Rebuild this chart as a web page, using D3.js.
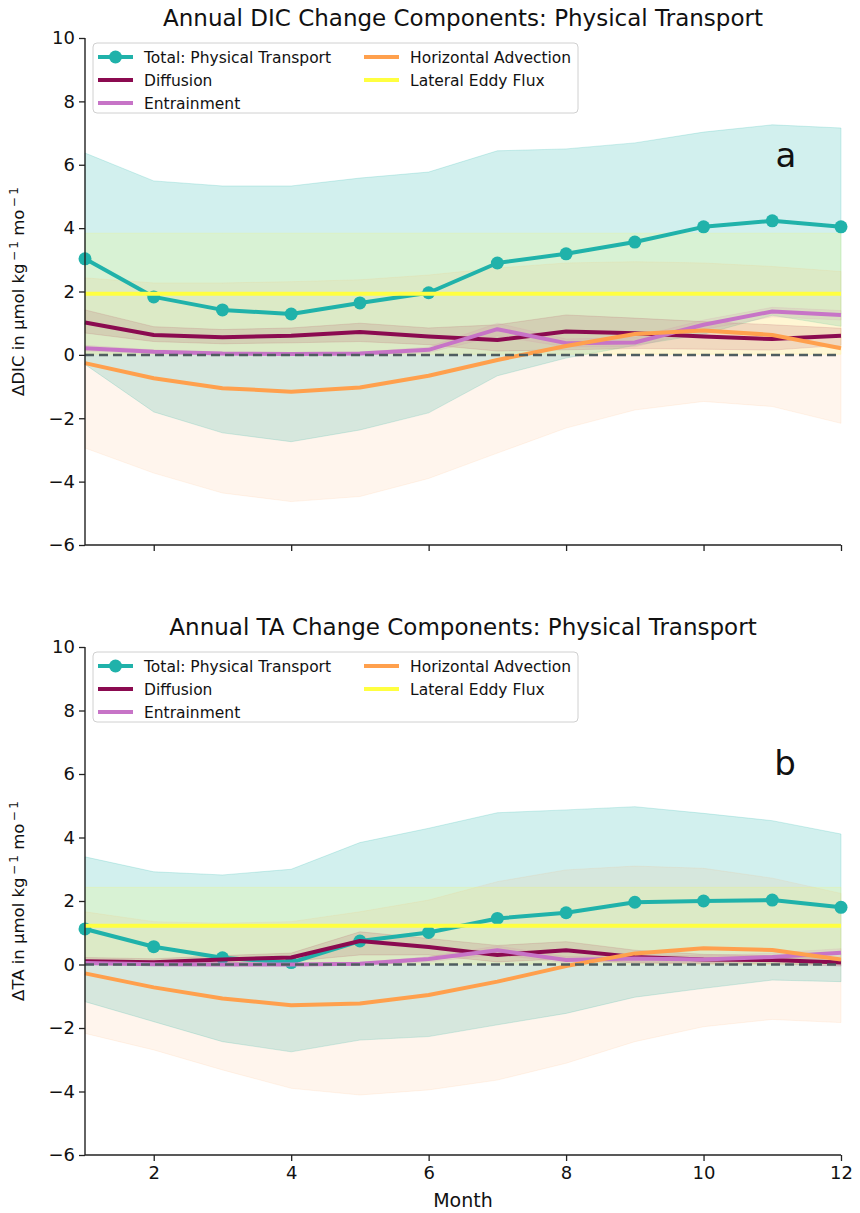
<!DOCTYPE html>
<html><head><meta charset="utf-8">
<script src="https://cdn.jsdelivr.net/npm/d3@7"></script>
<style>body{margin:0;background:#fff}svg{display:block;font-family:"DejaVu Sans",sans-serif}</style>
</head><body><svg id="c" width="860" height="1213"></svg>
<script>
const months = [1,2,3,4,5,6,7,8,9,10,11,12];
const xTicks = [2,4,6,8,10,12];
const yTicks = [-6,-4,-2,0,2,4,6,8,10];
const legendLabels = ["Total: Physical Transport","Diffusion","Entrainment","Horizontal Advection","Lateral Eddy Flux"];

// ---- DIC panel ----
const dicTotal   = [3.03,1.83,1.42,1.29,1.64,1.96,2.90,3.19,3.56,4.04,4.23,4.04];
const dicTotalHi = [6.37,5.49,5.33,5.33,5.58,5.77,6.44,6.50,6.69,7.03,7.26,7.16];
const dicTotalLo = [-0.30,-1.80,-2.46,-2.74,-2.37,-1.83,-0.66,-0.10,0.30,0.65,1.25,0.90];
const dicDiff    = [1.02,0.63,0.56,0.60,0.72,0.58,0.47,0.74,0.68,0.58,0.50,0.60];
const dicDiffHi  = [1.42,0.89,0.80,0.85,1.00,0.85,0.95,1.26,1.16,1.05,0.95,0.84];
const dicDiffLo  = [0.69,0.42,0.35,0.38,0.42,0.32,0.12,0.16,0.20,0.18,0.15,0.30];
const dicEnt     = [0.21,0.10,0.04,0.03,0.04,0.16,0.81,0.37,0.39,0.95,1.37,1.26];
const dicEntHi   = [0.30,0.16,0.08,0.07,0.08,0.25,1.00,0.50,0.55,1.10,1.50,1.40];
const dicEntLo   = [0.12,0.04,0.00,0.00,0.00,0.07,0.60,0.25,0.25,0.80,1.20,1.10];
const dicAdv     = [-0.26,-0.74,-1.05,-1.16,-1.03,-0.66,-0.16,0.28,0.66,0.77,0.63,0.21];
const dicAdvHi   = [2.43,2.27,2.27,2.31,2.37,2.52,2.74,2.90,2.94,2.90,2.79,2.63];
const dicAdvLo   = [-2.94,-3.73,-4.36,-4.63,-4.47,-3.90,-3.10,-2.31,-1.74,-1.47,-1.63,-2.16];
const dicEddy    = [1.93,1.93,1.93,1.93,1.93,1.93,1.93,1.93,1.93,1.93,1.93,1.93];
const dicEddyHi  = [3.84,3.84,3.84,3.84,3.84,3.84,3.84,3.84,3.84,3.84,3.84,3.84];
const dicEddyLo  = [0.02,0.02,0.02,0.02,0.02,0.02,0.02,0.02,0.02,0.02,0.02,0.02];

// ---- TA panel ----
const taTotal   = [1.12,0.56,0.21,0.06,0.74,1.01,1.45,1.63,1.96,2.00,2.03,1.80];
const taTotalHi = [3.39,2.92,2.82,3.00,3.84,4.29,4.78,4.87,4.97,4.76,4.53,4.11];
const taTotalLo = [-1.17,-1.80,-2.43,-2.75,-2.38,-2.27,-1.90,-1.54,-1.03,-0.75,-0.49,-0.54];
const taDiff    = [0.10,0.07,0.16,0.22,0.74,0.55,0.30,0.45,0.24,0.16,0.14,0.06];
const taDiffHi  = [0.22,0.18,0.28,0.36,1.03,0.82,0.60,0.72,0.45,0.32,0.28,0.18];
const taDiffLo  = [0.00,-0.03,0.05,0.10,0.30,0.30,0.08,0.18,0.05,0.02,0.02,-0.05];
const taEnt     = [0.05,0.01,0.00,0.00,0.02,0.17,0.45,0.14,0.19,0.16,0.24,0.37];
const taEntHi   = [0.10,0.05,0.03,0.03,0.06,0.25,0.58,0.25,0.30,0.28,0.36,0.50];
const taEntLo   = [0.00,-0.02,-0.03,-0.03,-0.02,0.08,0.32,0.05,0.08,0.05,0.12,0.24];
const taAdv     = [-0.28,-0.72,-1.07,-1.28,-1.23,-0.96,-0.54,-0.05,0.35,0.51,0.46,0.16];
const taAdvHi   = [1.66,1.35,1.30,1.35,1.66,2.03,2.61,2.98,3.10,3.03,2.72,2.24];
const taAdvLo   = [-2.17,-2.69,-3.32,-3.90,-4.11,-3.95,-3.64,-3.11,-2.43,-1.96,-1.73,-1.83];
const taEddy    = [1.22,1.22,1.22,1.22,1.22,1.22,1.22,1.22,1.22,1.22,1.22,1.22];
const taEddyHi  = [2.43,2.43,2.43,2.43,2.43,2.43,2.43,2.43,2.43,2.43,2.43,2.43];
const taEddyLo  = [0.01,0.01,0.01,0.01,0.01,0.01,0.01,0.01,0.01,0.01,0.01,0.01];

const COL = {total:"#20b2aa", diff:"#8b0a50", ent:"#c774c7", adv:"#ffa04d", eddy:"#ffff40", zero:"#4f5d60"};

const svg = d3.select("#c");
const x = d3.scaleLinear().domain([1,12]).range([85,841]);

function panel(cfg){
  const y = d3.scaleLinear().domain([-6,10]).range([cfg.bottom, cfg.top]);
  const g = svg.append("g");
  const series = [
    {key:"total", v:cfg.total, hi:cfg.totalHi, lo:cfg.totalLo, alpha:0.2},
    {key:"diff", v:cfg.diff, hi:cfg.diffHi, lo:cfg.diffLo, alpha:0.15},
    {key:"ent", v:cfg.ent, hi:cfg.entHi, lo:cfg.entLo, alpha:0.15},
    {key:"adv", v:cfg.adv, hi:cfg.advHi, lo:cfg.advLo, alpha:0.1},
    {key:"eddy", v:cfg.eddy, hi:cfg.eddyHi, lo:cfg.eddyLo, alpha:0.15}
  ];
  const area = d3.area().x((d,i)=>x(months[i])).y0(d=>y(d[0])).y1(d=>y(d[1]));
  const line = d3.line().x((d,i)=>x(months[i])).y(d=>y(d));
  series.forEach(s=>{
    const pts = s.lo.map((l,i)=>[l,s.hi[i]]);
    g.append("path").attr("d", area(pts)).attr("fill", COL[s.key]).attr("fill-opacity", s.alpha)
      .attr("stroke", COL[s.key]).attr("stroke-opacity", s.alpha).attr("stroke-width",1);
  });
  series.forEach(s=>{
    g.append("path").attr("d", line(s.v)).attr("fill","none").attr("stroke", COL[s.key])
      .attr("stroke-width", 4).attr("stroke-linejoin","round");
    if(s.key==="total"){
      g.selectAll(null).data(s.v).enter().append("circle")
        .attr("cx",(d,i)=>x(months[i])).attr("cy",d=>y(d)).attr("r",6.5).attr("fill",COL.total);
    }
  });
  g.append("line").attr("x1",x(1)).attr("x2",x(12)).attr("y1",y(0)).attr("y2",y(0))
    .attr("stroke",COL.zero).attr("stroke-width",2.5).attr("stroke-dasharray","9,5");

  const ax = g.append("g").attr("transform",`translate(0,${cfg.bottom})`)
    .call(d3.axisBottom(x).tickValues(xTicks).tickSize(6).tickPadding(5)
      .tickFormat(cfg.showX ? d3.format("d") : ""));
  const ay = g.append("g").attr("transform",`translate(${x(1)},0)`)
    .call(d3.axisLeft(y).tickValues(yTicks).tickSize(6).tickPadding(4)
      .tickFormat(d=> d<0 ? "\u2212"+Math.abs(d) : d));
  [ax,ay].forEach(a=>{
    a.selectAll("path").attr("stroke","#222").attr("stroke-width",1.4);
    a.selectAll("line").attr("stroke","#222").attr("stroke-width",1.3);
    a.selectAll("text").attr("font-size",18).attr("fill","#111").attr("font-family","DejaVu Sans");
  });
  ax.select(".domain").attr("d",`M${x(1)},0H${x(12)}`);
  ay.select(".domain").attr("d",`M0,${cfg.bottom}V${cfg.top}`);

  svg.append("text").attr("x",463).attr("y",cfg.top-12).attr("text-anchor","middle")
    .attr("font-size",23).attr("fill","#111").text(cfg.title);
  svg.append("text").attr("x",cfg.letterX).attr("y",cfg.letterY).attr("text-anchor","middle")
    .attr("font-size",34).attr("fill","#111").text(cfg.letter);
  const yl = svg.append("text").attr("transform",`translate(24,${(cfg.top+cfg.bottom)/2}) rotate(-90)`)
    .attr("text-anchor","middle").attr("font-size",16.5).attr("fill","#111");
  yl.append("tspan").text(cfg.ylab+" in \u03bcmol kg");
  yl.append("tspan").attr("font-size",12).attr("dy",-6).text("\u2009\u2212\u20091");
  yl.append("tspan").attr("dy",6).text(" mo");
  yl.append("tspan").attr("font-size",12).attr("dy",-6).text("\u2009\u2212\u20091");

  const L = svg.append("g").attr("transform",`translate(93,${cfg.top+5})`);
  L.append("rect").attr("width",485).attr("height",70).attr("rx",4)
    .attr("fill","#fff").attr("fill-opacity",0.85).attr("stroke","#d0d0d0").attr("stroke-width",1);
  const items = [
    {k:"total", c:0, r:0}, {k:"diff", c:0, r:1}, {k:"ent", c:0, r:2},
    {k:"adv", c:1, r:0}, {k:"eddy", c:1, r:1}
  ];
  items.forEach((it,i)=>{
    const ox = it.c===0 ? 5 : 271, oy = 14 + it.r*23;
    L.append("line").attr("x1",ox).attr("x2",ox+35).attr("y1",oy).attr("y2",oy)
      .attr("stroke",COL[it.k]).attr("stroke-width",4);
    if(it.k==="total") L.append("circle").attr("cx",ox+17.5).attr("cy",oy).attr("r",6.5).attr("fill",COL.total);
    L.append("text").attr("x",ox+46).attr("y",oy+5.5).attr("font-size",15.5).attr("fill","#111").text(legendLabels[i]);
  });
}

panel({top:38, bottom:545, showX:false, title:"Annual DIC Change Components: Physical Transport",
  letter:"a", letterX:786, letterY:167, ylab:"\u0394DIC",
  total:dicTotal,totalHi:dicTotalHi,totalLo:dicTotalLo,diff:dicDiff,diffHi:dicDiffHi,diffLo:dicDiffLo,
  ent:dicEnt,entHi:dicEntHi,entLo:dicEntLo,adv:dicAdv,advHi:dicAdvHi,advLo:dicAdvLo,
  eddy:dicEddy,eddyHi:dicEddyHi,eddyLo:dicEddyLo});
panel({top:647, bottom:1155, showX:true, title:"Annual TA Change Components: Physical Transport",
  letter:"b", letterX:785, letterY:775, ylab:"\u0394TA",
  total:taTotal,totalHi:taTotalHi,totalLo:taTotalLo,diff:taDiff,diffHi:taDiffHi,diffLo:taDiffLo,
  ent:taEnt,entHi:taEntHi,entLo:taEntLo,adv:taAdv,advHi:taAdvHi,advLo:taAdvLo,
  eddy:taEddy,eddyHi:taEddyHi,eddyLo:taEddyLo});

svg.append("text").attr("x",463).attr("y",1207).attr("text-anchor","middle").attr("font-size",19)
  .attr("fill","#111").text("Month");
</script></body></html>
